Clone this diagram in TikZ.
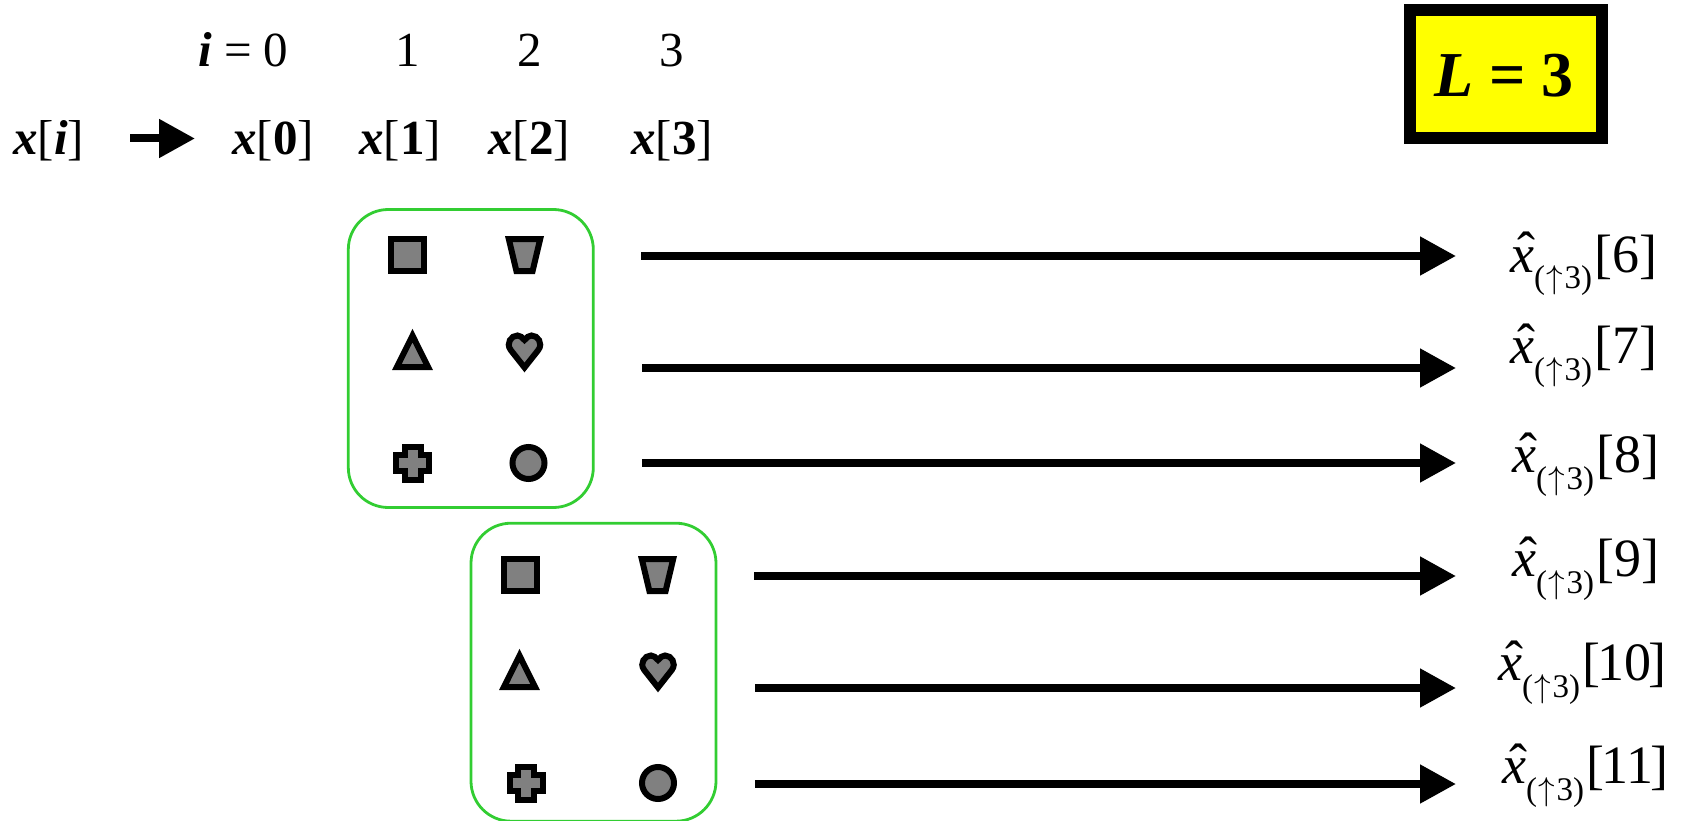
\documentclass[tikz,border=0pt]{standalone}
\usepackage{fontspec}
\setmainfont{Liberation Serif}
\usetikzlibrary{arrows.meta}
\definecolor{boxgreen}{HTML}{32CD32}
\definecolor{symgray}{HTML}{808080}
\definecolor{lyellow}{HTML}{FFFF00}
\newcommand{\fsz}[1]{\fontsize{#1}{#1}\selectfont}
\newcommand{\xhatlabel}[1]{\fsz{54}\rlap{\hspace{7pt}\raisebox{2pt}{ˆ}}\textit{x}\raisebox{-17pt}{\fsz{33}(\kern1.5pt\scalebox{1.33}{$\uparrow$}\kern1.5pt 3)}\hspace{2.5pt}[#1]}
\tikzset{
  x=1pt,y=-1pt,
  sym/.style={draw=black,fill=symgray,line width=6pt,line join=miter,miter limit=10},
  greenbox/.style={draw=boxgreen,line width=2.8pt,rounded corners=40pt,minimum width=245pt,minimum height=298pt,inner sep=0pt},
  bigarrow/.style={draw=black,line width=8pt,-{Triangle[length=36pt,width=37pt]}},
  toptxt/.style={inner sep=0pt,anchor=base,font=\fsz{49}},
  reslabel/.style={inner sep=0pt,anchor=base west},
  lbox/.style={draw=black,fill=lyellow,line width=12pt,minimum width=192pt,minimum height=128pt,inner sep=0pt},
  symsquare/.pic={\path[sym] (-16.5,-16) rectangle (16.5,16);},
  symtrap/.pic={\path[sym] (-15.7,-16) -- (15.7,-16) -- (8.1,16) -- (-8.1,16) -- cycle;},
  symtri/.pic={\path[sym] (0,-14.3) -- (15.6,17) -- (-15.6,17) -- cycle;},
  symheart/.pic={\path[sym] (0,16.5) -- (-13.8,-1) .. controls (-19,-8) and (-13,-15.5) .. (-7,-15.5) .. controls (-4,-15.5) and (-2.5,-13.5) .. (0,-11) .. controls (2.5,-13.5) and (4,-15.5) .. (7,-15.5) .. controls (13,-15.5) and (19,-8) .. (13.8,-1) -- cycle;},
  symcross/.pic={\path[sym] (-8,-16.5) -- (8,-16.5) -- (8,-8) -- (16.5,-8) -- (16.5,8) -- (8,8) -- (8,16.5) -- (-8,16.5) -- (-8,8) -- (-16.5,8) -- (-16.5,-8) -- (-8,-8) -- cycle;},
  symcircle/.pic={\path[sym] (0,0) circle[radius=16];},
}
\begin{document}
\begin{tikzpicture}
\useasboundingbox (0,0) rectangle (1681,821);
% header
\node[toptxt,anchor=base west] (i0) at (198,67) {\textit{\textbf{i}} = 0};
\node[toptxt] (i1) at (408,67) {1};
\node[toptxt] (i2) at (530,67) {2};
\node[toptxt] (i3) at (672,67) {3};
\node[toptxt,anchor=base west] (xi) at (13,155) {\textit{\textbf{x}}[\textit{\textbf{i}}]};
\node[toptxt,anchor=base west] (x0) at (232,155) {\textit{\textbf{x}}[\textbf{0}]};
\node[toptxt,anchor=base west] (x1) at (359,155) {\textit{\textbf{x}}[\textbf{1}]};
\node[toptxt,anchor=base west] (x2) at (488,155) {\textit{\textbf{x}}[\textbf{2}]};
\node[toptxt,anchor=base west] (x3) at (631,155) {\textit{\textbf{x}}[\textbf{3}]};
\coordinate (hs) at (130,138.5);
\coordinate (he) at (195,138.5);
\draw[bigarrow] (hs) -- (he);
% L box
\node[lbox] (lb) at (1506,74) {};
\node[inner sep=0pt,anchor=base,font=\fsz{64}\bfseries] (lt) at (1504,97) {\textit{L} = 3};
% groups
\node[greenbox] (g1) at (470.8,358.5) {};
\node[greenbox] (g2) at (593.5,672.2) {};
% symbols, first group
\pic at (407.5,255) {symsquare};
\pic at (524.5,255) {symtrap};
\pic at (412.5,350) {symtri};
\pic at (524.5,351) {symheart};
\pic at (412.5,463) {symcross};
\pic at (528.5,463) {symcircle};
% symbols, second group
\pic at (520,575) {symsquare};
\pic at (657.5,575) {symtrap};
\pic at (519.5,670) {symtri};
\pic at (658,671) {symheart};
\pic at (526,783) {symcross};
\pic at (658,783) {symcircle};
% arrows
\coordinate (a1s) at (641,256);  \coordinate (a1e) at (1456,256);
\coordinate (a2s) at (642,368);  \coordinate (a2e) at (1456,368);
\coordinate (a3s) at (642,463);  \coordinate (a3e) at (1456,463);
\coordinate (a4s) at (754,576);  \coordinate (a4e) at (1456,576);
\coordinate (a5s) at (755,688);  \coordinate (a5e) at (1456,688);
\coordinate (a6s) at (755,784);  \coordinate (a6e) at (1456,784);
\draw[bigarrow] (a1s) -- (a1e);
\draw[bigarrow] (a2s) -- (a2e);
\draw[bigarrow] (a3s) -- (a3e);
\draw[bigarrow] (a4s) -- (a4e);
\draw[bigarrow] (a5s) -- (a5e);
\draw[bigarrow] (a6s) -- (a6e);
% labels
\node[reslabel] (r6) at (1510,272) {\xhatlabel{6}};
\node[reslabel] (r7) at (1510,363) {\xhatlabel{7}};
\node[reslabel] (r8) at (1512,472) {\xhatlabel{8}};
\node[reslabel] (r9) at (1512,576) {\xhatlabel{9}};
\node[reslabel] (r10) at (1498,680) {\xhatlabel{\kern-3pt 10\kern-3pt}};
\node[reslabel] (r11) at (1502,783) {\xhatlabel{\kern-3pt 11\kern-3pt}};
\end{tikzpicture}
\end{document}
